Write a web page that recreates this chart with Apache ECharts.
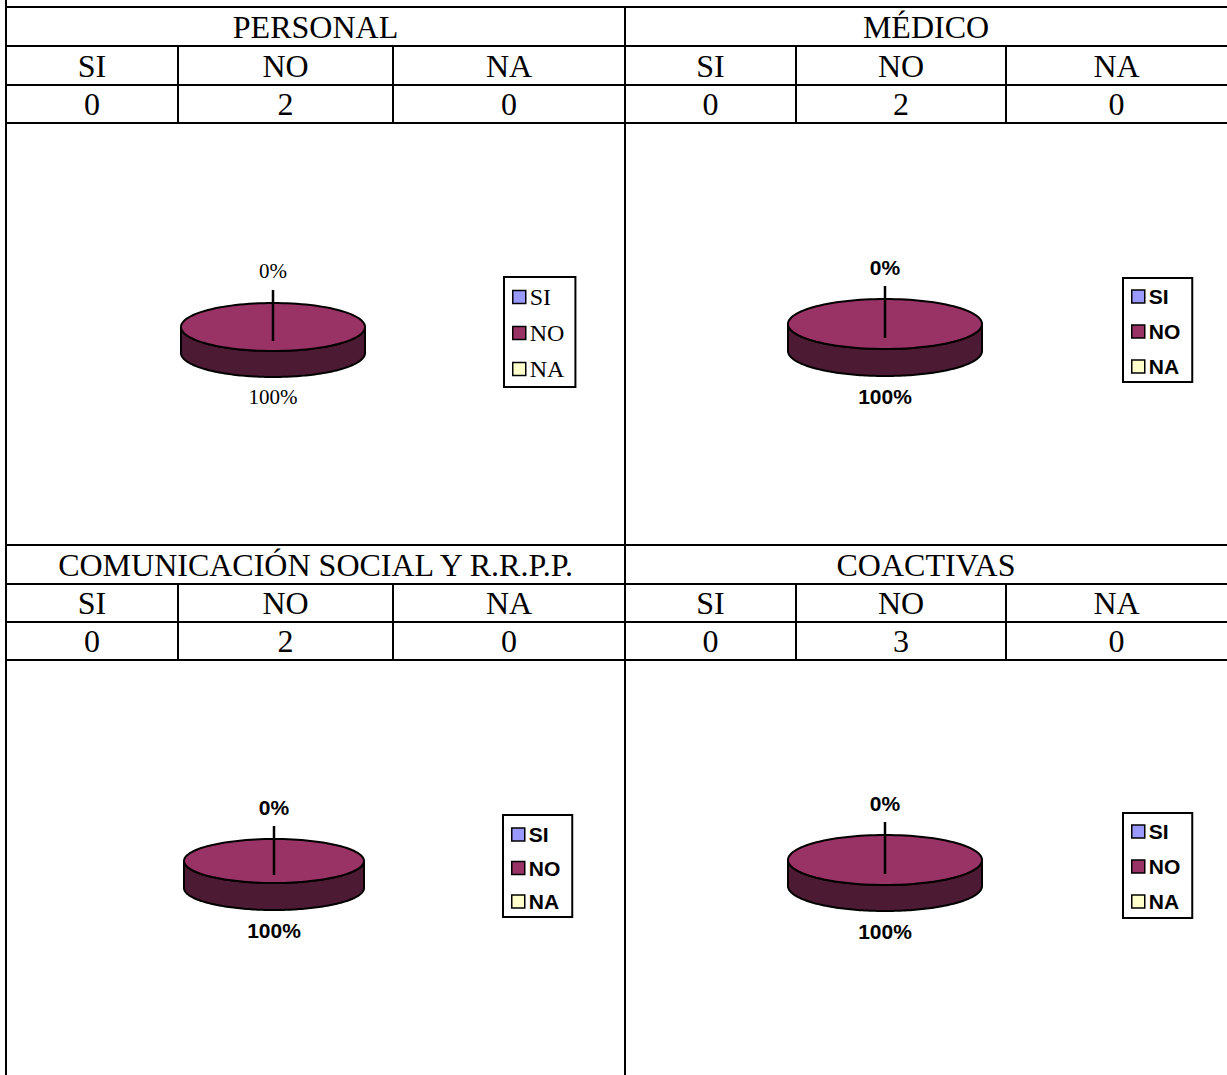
<!DOCTYPE html>
<html>
<head>
<meta charset="utf-8">
<script src="https://cdn.jsdelivr.net/npm/echarts@6/dist/echarts.min.js"></script>
<style>
html,body{margin:0;padding:0;background:#fff;}
#chart{width:1227px;height:1075px;}
</style>
</head>
<body>
<div id="chart"></div>
<script>
// ---- DATA ----
const panelTitles = ['PERSONAL', 'MÉDICO', 'COMUNICACIÓN SOCIAL Y R.R.P.P.', 'COACTIVAS'];
const categories = ['SI', 'NO', 'NA'];
const personalValues = [0, 2, 0];
const medicoValues = [0, 2, 0];
const comunicacionValues = [0, 2, 0];
const coactivasValues = [0, 3, 0];
const panelValues = [personalValues, medicoValues, comunicacionValues, coactivasValues];

// ---- STYLE / LAYOUT ----
const sliceColors = {SI: '#9999ff', NO: '#993366', NA: '#ffffcc'};
const sideColors = {SI: '#4d4d80', NO: '#4d1a33', NA: '#808066'};
const serif = 'Liberation Serif, Times New Roman, serif';
const sans = 'Liberation Sans, Arial, sans-serif';

const layout = [
  {x0: 6, x1: 625, cols: [6, 178, 393, 625], rows: [7, 46, 85, 123], cx: 273, cy: 327, rx: 92, ry: 24, depth: 26,
   legend: {left: 504, top: 277, gap: 12, pad: [8, 11, 6, 8]}, labelFont: {family: serif, weight: 'normal', size: 21}, legendFont: {family: serif, weight: 'normal', size: 24}},
  {x0: 625, x1: 1227, cols: [625, 796, 1006, 1227], rows: [7, 46, 85, 123], cx: 885, cy: 324, rx: 97, ry: 25, depth: 27,
   legend: {left: 1123, top: 278, gap: 14, pad: [8, 12, 5, 8]}, labelFont: {family: sans, weight: 'bold', size: 21}, legendFont: {family: sans, weight: 'bold', size: 21}},
  {x0: 6, x1: 625, cols: [6, 178, 393, 625], rows: [545, 584, 622, 660], cx: 274, cy: 861, rx: 90, ry: 22, depth: 27,
   legend: {left: 503, top: 815, gap: 12.5, pad: [9, 12, 5, 8]}, labelFont: {family: sans, weight: 'bold', size: 21}, legendFont: {family: sans, weight: 'bold', size: 21}},
  {x0: 625, x1: 1227, cols: [625, 796, 1006, 1227], rows: [545, 584, 622, 660], cx: 885, cy: 860, rx: 97, ry: 25, depth: 26,
   legend: {left: 1123, top: 813, gap: 14, pad: [8, 12, 6, 8]}, labelFont: {family: sans, weight: 'bold', size: 21}, legendFont: {family: sans, weight: 'bold', size: 21}}
];

// ---- TABLE (graphic) ----
const graphics = [];
function hline(y, x0, x1) { graphics.push({type: 'line', shape: {x1: x0 - 1, y1: y, x2: x1, y2: y}, style: {stroke: '#000', lineWidth: 2}, silent: true}); }
function vline(x, y0, y1) { graphics.push({type: 'line', shape: {x1: x, y1: y0, x2: x, y2: y1}, style: {stroke: '#000', lineWidth: 2}, silent: true}); }
function cellText(t, x, y) {
  graphics.push({type: 'text', style: {text: t, x: x, y: y, align: 'center', verticalAlign: 'middle', fontFamily: serif, fontSize: 32, fill: '#000'}, silent: true});
}
vline(6, 0, 1075);
vline(625, 7, 1075);
layout.forEach((L, p) => {
  L.rows.forEach(y => hline(y, L.x0, L.x1));
  [L.cols[1], L.cols[2]].forEach(x => vline(x, L.rows[1], L.rows[3]));
  cellText(panelTitles[p], (L.x0 + L.x1) / 2, (L.rows[0] + L.rows[1]) / 2);
  categories.forEach((c, i) => {
    const xc = (L.cols[i] + L.cols[i + 1]) / 2;
    cellText(c, xc, (L.rows[1] + L.rows[2]) / 2);
    cellText(String(panelValues[p][i]), xc, (L.rows[2] + L.rows[3]) / 2);
  });
});

// ---- PIE SLICES (custom series, elliptical 3D look) ----
function ept(L, t, dy) {
  return [L.cx + L.rx * Math.sin(t), L.cy - L.ry * Math.cos(t) + (dy || 0)];
}
const series = [];
panelValues.forEach((vals, p) => {
  const L = layout[p];
  const total = vals.reduce((a, b) => a + b, 0);
  let acc = 0;
  const seenLabelAngles = {};
  categories.forEach((cat, i) => {
    const v = vals[i];
    const a0 = acc / total * 360;
    acc += v;
    const a1 = acc / total * 360;
    const mid = ((a0 + a1) / 2) % 360;
    const key = mid.toFixed(3);
    const showLabel = !seenLabelAngles[key];
    seenLabelAngles[key] = true;
    series.push({
      type: 'custom',
      name: cat,
      coordinateSystem: 'none',
      z: v === 0 ? 5 : 2,
      silent: true,
      itemStyle: {color: sliceColors[cat]},
      data: [[v, a0, a1, Math.round(v / total * 100)]],
      renderItem: function (params, api) {
        const val = api.value(0), s = api.value(1) * Math.PI / 180, e = api.value(2) * Math.PI / 180;
        const pct = api.value(3);
        const children = [];
        const N = 120;
        if (val > 0) {
          // side wall (front half: angles 90..270 deg)
          const fs = Math.max(s, Math.PI / 2), fe = Math.min(e, 3 * Math.PI / 2);
          if (fe > fs) {
            const pts = [];
            for (let k = 0; k <= N; k++) pts.push(ept(L, fs + (fe - fs) * k / N, 0));
            for (let k = N; k >= 0; k--) pts.push(ept(L, fs + (fe - fs) * k / N, L.depth));
            children.push({type: 'polygon', shape: {points: pts}, style: {fill: sideColors[cat], stroke: '#000', lineWidth: 2}});
          }
          // top face
          const top = [];
          const full = (e - s) >= 2 * Math.PI - 1e-9;
          if (!full) top.push([L.cx, L.cy]);
          for (let k = 0; k <= N; k++) top.push(ept(L, s + (e - s) * k / N, 0));
          children.push({type: 'polygon', shape: {points: top}, style: {fill: sliceColors[cat], stroke: '#000', lineWidth: 2}});
        }
        const m = (s + e) / 2;
        if (val === 0 && showLabel) {
          // leader line from label to slice position
          const sx = L.cx, topY = L.cy - L.ry - 13, botY = L.cy + 14;
          children.push({type: 'line', shape: {x1: sx, y1: topY, x2: sx, y2: botY}, style: {stroke: '#000', lineWidth: 2.5}});
        }
        if (showLabel) {
          const c = Math.cos(m);
          const lx = L.cx + Math.sin(m) * (L.rx + 30);
          const ly = c >= 0 ? L.cy - c * (L.ry + 32) : L.cy - c * (L.ry + L.depth + 20);
          children.push({type: 'text', style: {text: pct + '%', x: lx, y: ly, align: 'center', verticalAlign: 'middle',
            fontFamily: L.labelFont.family, fontWeight: L.labelFont.weight, fontSize: L.labelFont.size, fill: '#000'}});
        }
        return {type: 'group', children: children};
      }
    });
  });
});

// ---- LEGENDS ----
const legends = layout.map(L => ({
  orient: 'vertical',
  left: L.legend.left,
  top: L.legend.top,
  data: categories,
  selectedMode: false,
  icon: 'rect',
  itemWidth: 13,
  itemHeight: 13,
  itemGap: L.legend.gap,
  padding: L.legend.pad,
  borderColor: '#000',
  borderWidth: 2,
  borderRadius: 0,
  backgroundColor: '#fff',
  itemStyle: {borderColor: '#000', borderWidth: 1.5},
  textStyle: {color: '#000', fontFamily: L.legendFont.family, fontWeight: L.legendFont.weight, fontSize: L.legendFont.size, padding: [0, 0, 0, -1]}
}));

const chart = echarts.init(document.getElementById('chart'), null, {renderer: 'svg'});
chart.setOption({
  animation: false,
  backgroundColor: '#fff',
  legend: legends,
  graphic: graphics,
  series: series
});
</script>
</body>
</html>
